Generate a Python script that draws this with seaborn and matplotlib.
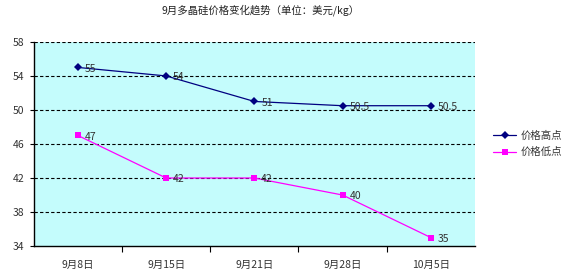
import matplotlib
matplotlib.use("Agg")
import matplotlib.pyplot as plt
import seaborn as sns
import pandas as pd

dates = ["9月8日", "9月15日", "9月21日", "9月28日", "10月5日"]
high = [55, 54, 51, 50.5, 50.5]
low = [47, 42, 42, 40, 35]
high_labels = ["55", "54", "51", "50.5", "50.5"]
low_labels = ["47", "42", "42", "40", "35"]
series_names = ["价格高点", "价格低点"]
yticks = [34, 38, 42, 46, 50, 54, 58]

sns.set_theme(style="white")
plt.rcParams['font.family'] = ['Noto Sans CJK SC', 'DejaVu Sans']

df = pd.DataFrame({
    "date": dates * 2,
    "pos": list(range(len(dates))) * 2,
    "value": high + low,
    "series": [series_names[0]] * len(dates) + [series_names[1]] * len(dates),
})

fig = plt.figure(figsize=(5.64, 2.74), dpi=100)
ax = fig.add_axes([0.060, 0.102, 0.782, 0.745])
ax.set_facecolor("#C4FCFC")

palette = {series_names[0]: "#000080", series_names[1]: "#FF00FF"}
sns.lineplot(data=df, x="pos", y="value", hue="series", style="series",
             palette=palette, markers={series_names[0]: "D", series_names[1]: "s"},
             dashes=False, linewidth=0.9, markersize=4.5, markeredgewidth=0,
             ax=ax, sort=False)

for i, (v, lab) in enumerate(zip(high, high_labels)):
    ax.annotate(lab, (i, v), xytext=(5, -1), textcoords="offset points",
                fontsize=7.5, color="#333333", va="center", ha="left")
for i, (v, lab) in enumerate(zip(low, low_labels)):
    ax.annotate(lab, (i, v), xytext=(5, -1), textcoords="offset points",
                fontsize=7.5, color="#333333", va="center", ha="left")

ax.set_xlim(-0.5, len(dates) - 0.5)
ax.set_ylim(34, 58)
ax.set_yticks(yticks)
ax.set_yticklabels([str(t) for t in yticks], fontsize=7.5, color="#333333")
ax.set_xticks(range(len(dates)))
ax.set_xticklabels(dates, fontsize=7.5, color="#333333")
ax.tick_params(axis="x", length=0, pad=10)
ax.tick_params(axis="y", length=3, width=0.8, color="black", pad=4, left=True, direction="out")
ax.set_xticks([i + 0.5 for i in range(len(dates) - 1)], minor=True)
ax.tick_params(axis="x", which="minor", length=4, width=0.8, color="black", bottom=True, direction="out")

for t in yticks[1:]:
    ax.axhline(t, color="black", linestyle=(0, (3, 2)), linewidth=0.8, zorder=0.5)

ax.spines["top"].set_visible(False)
ax.spines["right"].set_visible(False)
for s in ["left", "bottom"]:
    ax.spines[s].set_color("black")
    ax.spines[s].set_linewidth(1.0)

ax.set_xlabel("")
ax.set_ylabel("")

handles, labels = ax.get_legend_handles_labels()
ax.legend(handles, labels, loc="center left", bbox_to_anchor=(1.02, 0.5),
          frameon=False, fontsize=7.5, handlelength=2.2, labelspacing=0.6,
          handletextpad=0.4, labelcolor="#333333")

fig.suptitle("9月多晶硅价格变化趋势（单位：美元/kg）", fontsize=7.5, x=0.462, y=0.985,
             color="#222222")

fig.savefig("out.png", dpi=100)
